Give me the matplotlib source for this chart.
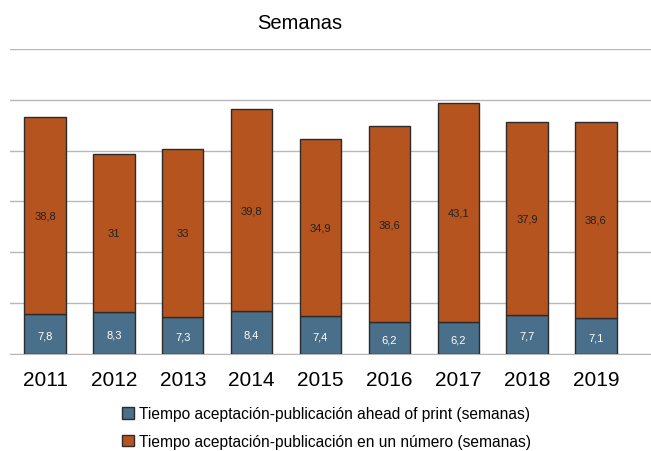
import numpy as np
import matplotlib
matplotlib.use("Agg")
import matplotlib.pyplot as plt
from matplotlib.patches import Patch

plt.rcParams['font.family'] = ['Liberation Sans', 'DejaVu Sans']

# data
years = ["2011", "2012", "2013", "2014", "2015", "2016", "2017", "2018", "2019"]
ahead_of_print = [7.8, 8.3, 7.3, 8.4, 7.4, 6.2, 6.2, 7.7, 7.1]
en_numero = [38.8, 31, 33, 39.8, 34.9, 38.6, 43.1, 37.9, 38.6]
yticks = [0, 10, 20, 30, 40, 50, 60]

label_blue = "Tiempo aceptación-publicación ahead of print (semanas)"
label_orange = "Tiempo aceptación-publicación en un número (semanas)"

blue = "#4a6f8a"
orange = "#b5541f"


def fmt(v):
    # comma decimal, drop trailing ,0
    s = ("%g" % v)
    return s.replace(".", ",")


fig = plt.figure(figsize=(6.51, 4.52), dpi=100)
ax = fig.add_axes([0.0154, 0.2146, 0.9846, 0.6748])

x = np.arange(len(years))
bottom_bars = ax.bar(x, ahead_of_print, width=0.6, color=blue,
                     edgecolor="#2b2b2b", linewidth=1, zorder=3)
top_bars = ax.bar(x, en_numero, width=0.6, bottom=ahead_of_print, color=orange,
                  edgecolor="#2b2b2b", linewidth=1, zorder=3)

for i in range(len(years)):
    ax.text(x[i], ahead_of_print[i] / 2 - 0.3, fmt(ahead_of_print[i]),
            ha="center", va="center", color="white", fontsize=8, zorder=4)
    ax.text(x[i], ahead_of_print[i] + en_numero[i] / 2, fmt(en_numero[i]),
            ha="center", va="center", color="#222222", fontsize=8, zorder=4)

ax.set_ylim(0, 60)
ax.set_xlim(-0.51, 8.8)
ax.set_yticks(yticks)
ax.yaxis.grid(True, color="#b8b8b8", linewidth=1)
ax.set_axisbelow(True)
ax.tick_params(axis="y", left=False, labelleft=False)
ax.tick_params(axis="x", bottom=False, labelsize=15, pad=8)
ax.set_xticks(x)
ax.set_xticklabels(years)
for s in ["left", "right", "top"]:
    ax.spines[s].set_visible(False)
ax.spines["bottom"].set_color("#b8b8b8")

fig.text(0.461, 0.948, "Semanas", ha="center", va="center", fontsize=14.5)

handles = [Patch(facecolor=blue, edgecolor="#2b2b2b", label=label_blue),
           Patch(facecolor=orange, edgecolor="#2b2b2b", label=label_orange)]
fig.legend(handles=handles, loc="center left", bbox_to_anchor=(0.176, 0.052),
           frameon=False, fontsize=11.2, handlelength=0.75, handleheight=0.75,
           handletextpad=0.3, labelspacing=0.8, borderpad=0)

fig.savefig("out.png", dpi=100)
